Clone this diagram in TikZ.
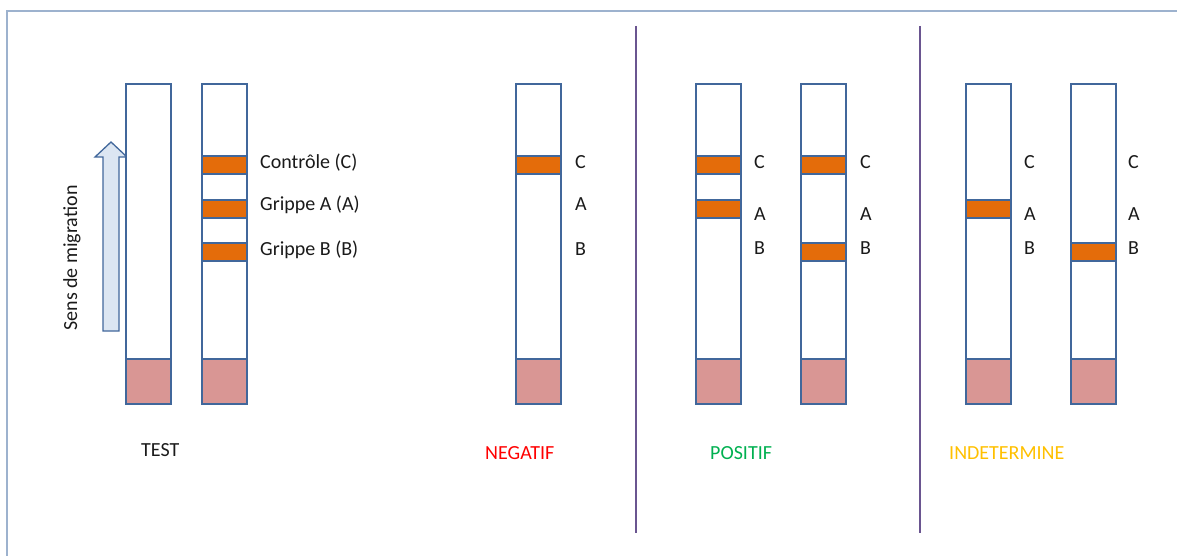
\documentclass[tikz,border=0pt]{standalone}
\usepackage{fontspec}
\setmainfont{Carlito}
\definecolor{stripc}{HTML}{41679B}
\definecolor{padc}{HTML}{D99694}
\definecolor{bandc}{HTML}{E46C0A}
\definecolor{arrowfill}{HTML}{DCE6F2}
\definecolor{framec}{HTML}{9DB2CE}
\definecolor{sepc}{HTML}{6A5590}
\definecolor{negc}{HTML}{FF0000}
\definecolor{posc}{HTML}{00B050}
\definecolor{indc}{HTML}{FFC000}
\definecolor{txtc}{HTML}{1A1A1A}
\tikzset{
  stripbox/.style={draw=stripc, line width=1.6pt, fill=white, minimum width=45pt, minimum height=320pt, inner sep=0pt, outer sep=0pt, anchor=north west},
  padbox/.style={draw=stripc, line width=1.6pt, fill=padc, minimum width=45pt, minimum height=45pt, inner sep=0pt, outer sep=0pt, anchor=south west},
  bandbox/.style={draw=stripc, line width=1.2pt, fill=bandc, minimum width=45pt, minimum height=18pt, inner sep=0pt, outer sep=0pt, anchor=north west},
  lab/.style={font=\fontsize{20}{24}\selectfont, text=txtc, anchor=base west, inner sep=0pt},
  sep/.style={draw=sepc, line width=1.3pt},
}
\begin{document}
\begin{tikzpicture}[x=1pt,y=-1pt]
\useasboundingbox (0,0) rectangle (1177,556);
% frame
\draw[framec, line width=1.5pt] (7,556) -- (7,11) -- (1177,11);
% separators
\coordinate (sa1) at (636,26); \coordinate (sa2) at (636,533);
\coordinate (sb1) at (920,26); \coordinate (sb2) at (920,533);
\draw[sep] (sa1) -- (sa2);
\draw[sep] (sb1) -- (sb2);
% migration arrow
\draw[draw=stripc, line width=1.3pt, fill=arrowfill, line join=miter]
  (103,331) -- (103,157) -- (95,157) -- (111,142) -- (127,157) -- (119,157) -- (119,331) -- cycle;
\node[lab, rotate=90, anchor=center] (mig) at (72,258) {Sens de migration};
% TEST strips
\node[stripbox] (t1) at (126,84) {};
\node[padbox] (t1p) at (126,404) {};
\node[stripbox] (t2) at (202,84) {};
\node[padbox] (t2p) at (202,404) {};
\node[bandbox] (t2c) at (202,156) {};
\node[bandbox] (t2a) at (202,200) {};
\node[bandbox] (t2b) at (202,243) {};
\node[lab] (lc) at (260,168) {Contrôle (C)};
\node[lab] (la) at (260,211) {Grippe A (A)};
\node[lab] (lb) at (260,255) {Grippe B (B)};
\node[lab] (test) at (141,456) {TEST};
% NEGATIF
\node[stripbox] (n1) at (516,84) {};
\node[padbox] (n1p) at (516,404) {};
\node[bandbox] (n1c) at (516,156) {};
\node[lab] (nC) at (575,168) {C};
\node[lab] (nA) at (575,211) {A};
\node[lab] (nB) at (575,255) {B};
\node[lab, text=negc] (neg) at (485,459) {NEGATIF};
% POSITIF
\node[stripbox] (p1) at (696,84) {};
\node[padbox] (p1p) at (696,404) {};
\node[bandbox] (p1c) at (696,156) {};
\node[bandbox] (p1a) at (696,200) {};
\node[lab] (p1C) at (754,168) {C};
\node[lab] (p1A) at (754,220) {A};
\node[lab] (p1B) at (754,254) {B};
\node[stripbox] (p2) at (801,84) {};
\node[padbox] (p2p) at (801,404) {};
\node[bandbox] (p2c) at (801,156) {};
\node[bandbox] (p2b) at (801,243) {};
\node[lab] (p2C) at (860,168) {C};
\node[lab] (p2A) at (860,220) {A};
\node[lab] (p2B) at (860,254) {B};
\node[lab, text=posc] (pos) at (710,459) {POSITIF};
% INDETERMINE
\node[stripbox] (i1) at (966,84) {};
\node[padbox] (i1p) at (966,404) {};
\node[bandbox] (i1a) at (966,200) {};
\node[lab] (i1C) at (1024,168) {C};
\node[lab] (i1A) at (1024,220) {A};
\node[lab] (i1B) at (1024,254) {B};
\node[stripbox] (i2) at (1071,84) {};
\node[padbox] (i2p) at (1071,404) {};
\node[bandbox] (i2b) at (1071,243) {};
\node[lab] (i2C) at (1128,168) {C};
\node[lab] (i2A) at (1128,220) {A};
\node[lab] (i2B) at (1128,254) {B};
\node[lab, text=indc] (ind) at (949,459) {INDETERMINE};
\end{tikzpicture}
\end{document}
